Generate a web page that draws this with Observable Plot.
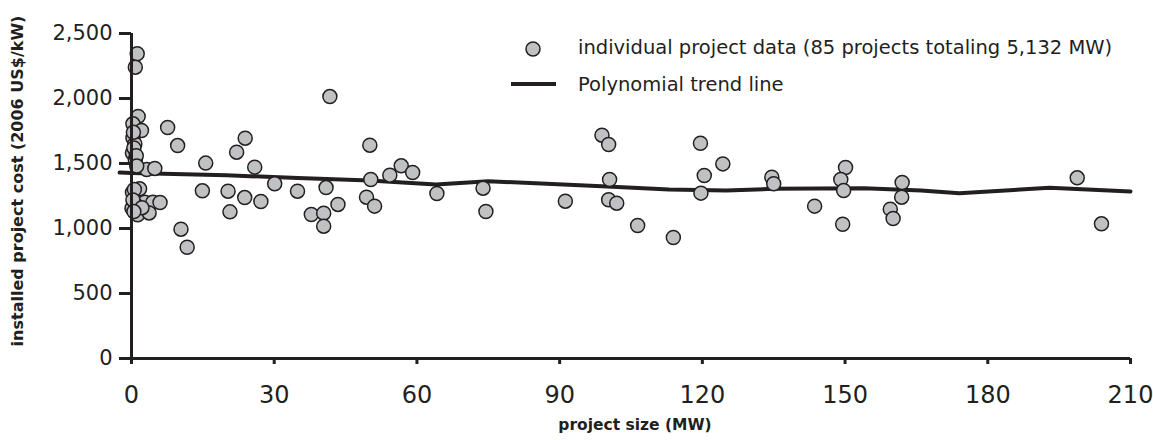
<!DOCTYPE html>
<html><head><meta charset="utf-8">
<script src="https://cdn.jsdelivr.net/npm/d3@7"></script>
<script src="https://cdn.jsdelivr.net/npm/@observablehq/plot@0.6"></script>
<style>
body{margin:0;background:#fff;}
#wrap{position:relative;width:1153px;height:440px;font-family:"DejaVu Sans",sans-serif;color:#231f20}
#legend{position:absolute;left:0;top:0;font-size:19.5px;}
.lg{position:absolute;white-space:nowrap;}
</style></head><body><div id="wrap"></div>
<script>
// project size (MW) and installed cost (2006 US$/kW)
const projectMW = [1.2,0.8,1.4,0.3,2.1,0.3,0.7,0.2,0.8,3.2,4.9,7.6,9.7,1.7,0.2,2.8,4.5,6.0,0.1,1.7,1.3,3.7,
  15.6,22.1,23.9,25.9,30.1,34.9,14.9,20.3,20.7,23.8,27.2,10.4,11.7,
  41.7,40.9,37.8,40.4,40.4,43.4,50.1,50.3,49.4,51.1,54.3,56.7,59.1,64.2,73.9,74.5,
  91.2,98.9,100.3,100.5,100.3,102.0,106.4,113.9,119.6,120.4,119.7,124.3,
  134.6,135.0,143.6,150.1,149.1,149.7,149.5,162.0,161.9,159.5,160.1,
  198.8,203.9,
  0.5,0.4,1.0,0.6,0.9,0.3,2.2,1.1,0.5];
const projectCost = [2344,2241,1862,1805,1754,1698,1650,1580,1528,1454,1462,1777,1638,1305,1277,1202,1202,1200,1155,1148,1105,1120,
  1503,1587,1695,1472,1344,1287,1290,1287,1128,1238,1208,995,856,
  2015,1315,1108,1118,1018,1185,1641,1377,1241,1172,1410,1482,1431,1269,1310,1131,
  1210,1718,1646,1377,1221,1195,1023,931,1656,1408,1272,1497,
  1395,1344,1172,1469,1377,1292,1033,1354,1241,1149,1077,
  1390,1036,
  1620,1740,1560,1300,1180,1220,1160,1480,1130];
// polynomial trend line
const trendMW =   [-2.5,0,20,35,50,64,75,100,113,125,135,154,166,174,193,210];
const trendCost = [1430,1427,1410,1388,1369,1338,1364,1323,1300,1292,1305,1310,1292,1272,1313,1285];
const xTicks = [0,30,60,90,120,150,180,210];
const yTicks = [0,500,1000,1500,2000,2500];
const xTitle = "project size (MW)";
const yTitle = "installed project cost (2006 US$/kW)";
const legendLabels = ["individual project data (85 projects totaling 5,132 MW)", "Polynomial trend line"];

const ink = "#231f20";
const dotFill = "#c0c1c3";
const points = projectMW.map((x, i) => ({x, y: projectCost[i]}));
const trend = trendMW.map((x, i) => ({x, y: trendCost[i]}));

const chart = Plot.plot({
  width: 1153, height: 440,
  marginLeft: 131, marginRight: 23, marginTop: 33, marginBottom: 82,
  style: {fontFamily: "'DejaVu Sans', sans-serif", color: ink, background: "#fff", overflow: "visible"},
  x: {domain: [0, 210]},
  y: {domain: [0, 2500]},
  marks: [
    Plot.line(trend, {x: "x", y: "y", stroke: ink, strokeWidth: 4}),
    Plot.dot(points, {x: "x", y: "y", r: 7, fill: dotFill, stroke: ink, strokeWidth: 1.5}),
    Plot.ruleX([0], {stroke: ink, strokeWidth: 3}),
    Plot.ruleY([0], {stroke: ink, strokeWidth: 3}),
    Plot.axisY({ticks: yTicks, tickFormat: d3.format(","), tickSize: 12, tickPadding: 7, fontSize: 21, stroke: ink, strokeWidth: 3, label: null}),
    Plot.axisX({ticks: xTicks, tickSize: 6, tickPadding: 21, fontSize: 24, stroke: ink, strokeWidth: 3, label: null}),
    Plot.text([yTitle], {text: d => d, frameAnchor: "left", textAnchor: "middle", rotate: -90, dx: -114, dy: -15, fontSize: 16, fontWeight: "bold", fill: ink}),
    Plot.text([xTitle], {text: d => d, frameAnchor: "bottom", dx: 4, dy: 71, fontSize: 15.5, fontWeight: "bold", fill: ink})
  ]
});
const wrap = document.getElementById("wrap");
wrap.appendChild(chart);

// legend overlay
const lg = document.createElement("div");
lg.id = "legend";
lg.innerHTML = `
  <svg class="lg" style="left:524px;top:40px" width="18" height="18"><circle cx="9" cy="9" r="7" fill="${dotFill}" stroke="${ink}" stroke-width="1.5"/></svg>
  <div class="lg" style="left:578px;top:36px">${legendLabels[0]}</div>
  <svg class="lg" style="left:510px;top:80px" width="48" height="8"><line x1="1" x2="46" y1="4" y2="4" stroke="${ink}" stroke-width="4"/></svg>
  <div class="lg" style="left:578px;top:73px">${legendLabels[1]}</div>`;
wrap.appendChild(lg);
</script></body></html>
